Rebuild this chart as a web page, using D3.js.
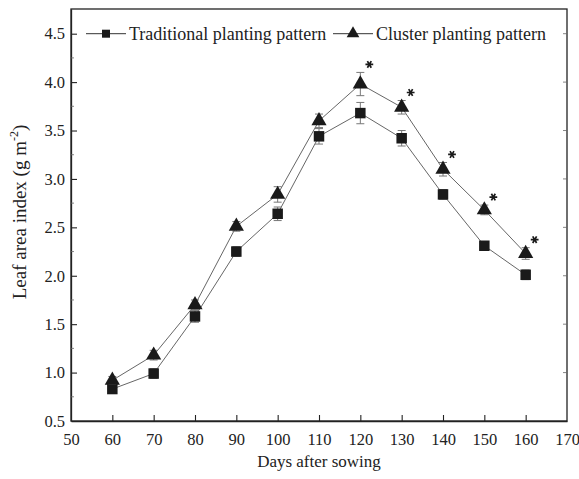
<!DOCTYPE html>
<html>
<head>
<meta charset="utf-8">
<script src="https://cdn.jsdelivr.net/npm/d3@7"></script>
<style>
  body { margin: 0; background: #fff; }
  text { font-family: "Liberation Serif", "Times New Roman", serif; fill: #222; }
</style>
</head>
<body>
<svg id="chart" width="579" height="479"></svg>
<script>
// data
const days = [60, 70, 80, 90, 100, 110, 120, 130, 140, 150, 160]
const traditional = [0.83, 0.99, 1.58, 2.25, 2.64, 3.44, 3.68, 3.42, 2.84, 2.31, 2.01]
const traditionalErr = [0.04, 0.05, 0.06, 0.05, 0.07, 0.08, 0.11, 0.08, 0.05, 0.04, 0.05]
const cluster = [0.92, 1.18, 1.70, 2.51, 2.84, 3.60, 3.98, 3.74, 3.10, 2.68, 2.23]
const clusterErr = [0.04, 0.05, 0.05, 0.05, 0.08, 0.07, 0.12, 0.07, 0.07, 0.05, 0.06]
const starDays = [120, 130, 140, 150, 160]
const xTicks = [50, 60, 70, 80, 90, 100, 110, 120, 130, 140, 150, 160, 170]
const yTicks = [0.5, 1.0, 1.5, 2.0, 2.5, 3.0, 3.5, 4.0, 4.5]

const svg = d3.select("#chart")
const plotL = 71, plotR = 567, plotT = 9, plotB = 421

const x = d3.scaleLinear().domain([50, 170]).range([plotL, plotR])
const y = d3.scaleLinear().domain([0.5, 4.755]).range([plotB, plotT])

const axisColor = "#222"

// frame
svg.append("rect")
	.attr("x", plotL).attr("y", plotT)
	.attr("width", plotR - plotL).attr("height", plotB - plotT)
	.attr("fill", "none").attr("stroke", axisColor).attr("stroke-width", 1.3)

// axes with inward ticks
const xAxis = svg.append("g")
	.attr("transform", `translate(0,${plotB})`)
	.call(d3.axisBottom(x).tickValues(xTicks).tickSizeInner(-6).tickSizeOuter(0).tickPadding(12))
xAxis.select(".domain").attr("stroke", axisColor).attr("stroke-width", 1.3)
xAxis.selectAll(".tick line").attr("stroke", axisColor).attr("stroke-width", 1.1)
xAxis.selectAll(".tick").filter(d => d === 50 || d === 170).select("line").remove()
xAxis.selectAll("text").attr("font-size", 16.5)

const yAxis = svg.append("g")
	.attr("transform", `translate(${plotL},0)`)
	.call(d3.axisLeft(y).tickValues(yTicks).tickFormat(d3.format(".1f")).tickSizeInner(-6).tickSizeOuter(0).tickPadding(6))
yAxis.select(".domain").attr("stroke", axisColor).attr("stroke-width", 1.3)
yAxis.selectAll(".tick line").attr("stroke", axisColor).attr("stroke-width", 1.1)
yAxis.selectAll(".tick").filter(d => d === 0.5).select("line").remove()
yAxis.selectAll("text").attr("font-size", 16.5)

// minor ticks on left, ticks on right
const minor = d3.range(0.75, 4.6, 0.5)
svg.append("g").selectAll("line").data(minor).join("line")
	.attr("x1", plotL).attr("x2", plotL + 3)
	.attr("y1", d => y(d)).attr("y2", d => y(d))
	.attr("stroke", "#666").attr("stroke-width", 0.8)
svg.append("g").selectAll("line").data(yTicks.slice(1)).join("line")
	.attr("x1", plotR).attr("x2", plotR - 4)
	.attr("y1", d => y(d)).attr("y2", d => y(d))
	.attr("stroke", "#666").attr("stroke-width", 0.8)

// axis titles
svg.append("text")
	.attr("x", (plotL + plotR) / 2).attr("y", 467)
	.attr("text-anchor", "middle").attr("font-size", 17)
	.text("Days after sowing")

const yt = svg.append("text")
	.attr("transform", `translate(26,212) rotate(-90)`)
	.attr("text-anchor", "middle").attr("font-size", 19)
yt.append("tspan").text("Leaf area index (g m")
yt.append("tspan").attr("font-size", 12).attr("dy", -8).text("-2")
yt.append("tspan").attr("dy", 8).text(")")

const line = d3.line().x((d, i) => x(days[i])).y(d => y(d))

function drawSeries(vals, errs, shape) {
	const g = svg.append("g")
	g.append("path").datum(vals)
		.attr("d", line).attr("fill", "none")
		.attr("stroke", "#555").attr("stroke-width", 0.9)
	const eb = g.append("g").attr("stroke", "#777").attr("stroke-width", 1)
	vals.forEach((v, i) => {
		const cx = x(days[i])
		const y1 = y(v + errs[i]), y2 = y(v - errs[i])
		eb.append("line").attr("x1", cx).attr("x2", cx).attr("y1", y1).attr("y2", y2)
		eb.append("line").attr("x1", cx - 4).attr("x2", cx + 4).attr("y1", y1).attr("y2", y1)
		eb.append("line").attr("x1", cx - 4).attr("x2", cx + 4).attr("y1", y2).attr("y2", y2)
	})
	g.selectAll(".m").data(vals).join("path")
		.attr("d", d3.symbol().type(shape).size(shape === d3.symbolSquare ? 110 : 100))
		.attr("transform", (d, i) => `translate(${x(days[i])},${y(d)})`)
		.attr("fill", "#1a1a1a")
}

drawSeries(traditional, traditionalErr, d3.symbolSquare)
drawSeries(cluster, clusterErr, d3.symbolTriangle)

// significance stars
svg.append("g").selectAll("path").data(starDays).join("path")
	.attr("d", d3.symbol().type(d3.symbolAsterisk).size(42))
	.attr("transform", d => {
		const i = days.indexOf(d)
		return `translate(${x(d) + 9},${y(cluster[i] + clusterErr[i]) - 8}) rotate(90)`
	})
	.attr("fill", "none").attr("stroke", "#1a1a1a").attr("stroke-width", 1.7)

// legend
const legend = [
	{label: "Traditional planting pattern", shape: d3.symbolSquare, x0: 86},
	{label: "Cluster planting pattern", shape: d3.symbolTriangle, x0: 333}
]
const ly = y(4.5)
legend.forEach(l => {
	svg.append("line").attr("x1", l.x0).attr("x2", l.x0 + 40)
		.attr("y1", ly).attr("y2", ly).attr("stroke", "#333").attr("stroke-width", 1)
	svg.append("path")
		.attr("d", d3.symbol().type(l.shape).size(l.shape === d3.symbolSquare ? 64 : 70))
		.attr("transform", `translate(${l.x0 + 20},${ly})`)
		.attr("fill", "#1a1a1a")
	svg.append("text").attr("x", l.x0 + 43).attr("y", ly + 6)
		.attr("font-size", 18).text(l.label)
})
</script>
</body>
</html>
